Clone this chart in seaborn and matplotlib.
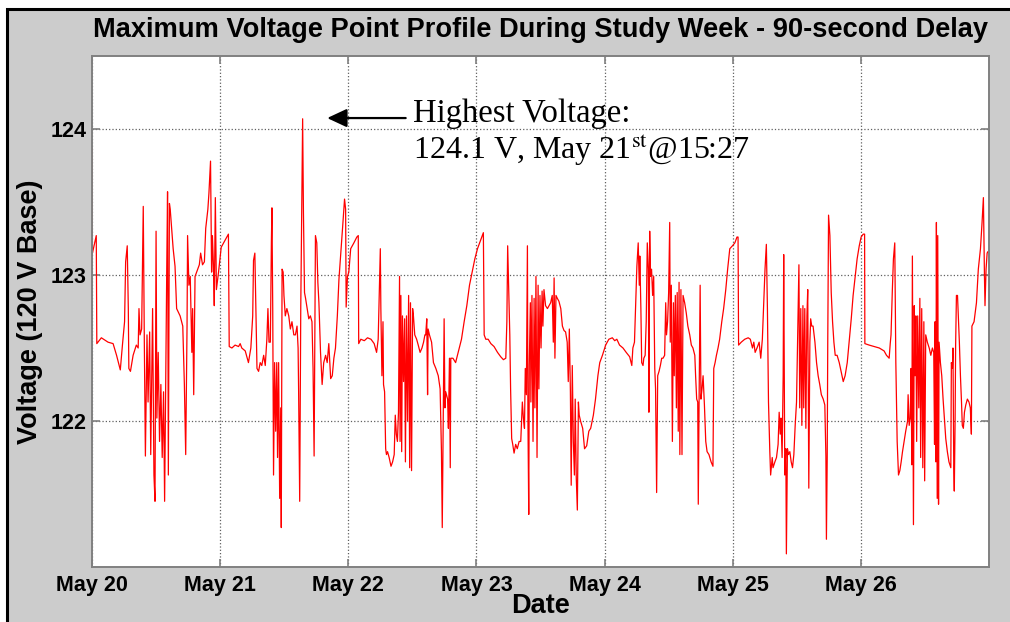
import numpy as np
import pandas as pd
import seaborn as sns
import matplotlib.pyplot as plt
import matplotlib.dates as mdates
from matplotlib.patches import Rectangle

# hours since May 20 00:00
may20_hours = [0.0, 0.02, 0.8, 0.9, 1.75, 3.0, 3.95, 4.6, 5.3, 5.7,
               6.1, 6.3, 6.6, 6.8, 6.9, 7.2, 7.7, 8.3, 8.65, 8.8,
               9.0, 9.3, 9.6, 9.8, 10.0, 10.3, 10.5, 10.8, 11.0, 11.35,
               11.6, 11.8, 12.0, 12.15, 12.4, 12.65, 12.9, 13.15, 13.4, 13.6,
               13.8, 14.0, 14.15, 14.3, 14.5, 14.65, 14.9, 15.2, 15.55, 15.85,
               16.5, 17.0, 17.3, 17.55, 17.8, 17.9, 18.15, 18.4, 18.7, 18.85,
               19.05, 19.3, 19.6, 20.1, 20.35, 20.7, 21.05, 21.3, 21.7, 21.9,
               22.2, 22.4, 22.55, 22.75, 22.9, 23.1, 23.3, 23.7, 24.2, 24.95,
               25.55]
may20_volts = [123.87, 123.14, 123.27, 122.53, 122.57, 122.54, 122.53, 122.45, 122.35, 122.52,
               122.68, 123.09, 123.20, 122.77, 122.36, 122.34, 122.45, 122.52, 122.50, 122.77,
               122.59, 122.63, 123.47, 122.54, 121.76, 122.59, 122.13, 122.61, 121.77, 122.77,
               121.63, 121.45, 123.30, 122.02, 122.47, 121.86, 122.25, 121.75, 122.20, 121.45,
               122.27, 123.04, 123.57, 121.63, 123.49, 123.45, 123.33, 123.18, 123.06, 122.77,
               122.72, 122.65, 122.25, 121.77, 122.65, 123.27, 122.93, 122.99, 122.47, 122.77,
               122.18, 122.99, 123.02, 123.07, 123.15, 123.07, 123.09, 123.32, 123.45, 123.56,
               123.78, 123.02, 123.27, 123.06, 122.79, 123.53, 122.90, 123.02, 123.19, 123.24,
               123.28]

may21_hours = [25.7, 26.2, 26.8, 27.45, 27.75, 28.05, 28.7, 29.3, 29.75, 30.1,
               30.25, 30.5, 30.7, 30.9, 31.2, 31.5, 31.8, 32.15, 32.45, 32.75,
               32.95, 33.15, 33.4, 33.6, 33.7, 33.85, 34.0, 34.2, 34.4, 34.6,
               34.75, 34.95, 35.15, 35.35, 35.45, 35.6, 35.8, 35.95, 36.2, 36.5,
               36.85, 37.15, 37.45, 37.8, 38.1, 38.4, 38.6, 38.7, 38.9, 39.1,
               39.45, 39.6, 39.8, 40.0, 40.3, 40.6, 40.9, 41.2, 41.4, 41.6,
               41.85, 42.1, 42.3, 42.5, 42.8, 43.1, 43.4, 43.75, 44.05, 44.35,
               44.7, 45.0, 45.3, 45.6, 45.95, 46.25, 46.7, 47.0, 47.3, 47.5,
               47.6, 47.85, 48.1, 48.45, 49.05, 49.6, 49.87]
may21_volts = [122.51, 122.50, 122.52, 122.51, 122.53, 122.50, 122.48, 122.40, 122.50, 122.72,
               123.10, 123.15, 122.77, 122.36, 122.34, 122.40, 122.38, 122.45, 122.38, 122.56,
               122.77, 122.54, 122.54, 123.23, 123.46, 122.77, 121.63, 122.40, 121.93, 122.40,
               121.75, 122.40, 121.47, 122.09, 121.27, 123.04, 123.02, 122.86, 122.72, 122.77,
               122.72, 122.63, 122.68, 122.59, 122.59, 122.65, 122.50, 122.20, 121.45, 122.78,
               124.07, 123.43, 122.88, 122.84, 122.77, 122.70, 122.72, 122.68, 122.36, 121.76,
               123.27, 123.22, 122.95, 122.81, 122.47, 122.25, 122.40, 122.45, 122.40, 122.53,
               122.29, 122.31, 122.43, 122.50, 122.72, 122.97, 123.20, 123.36, 123.52, 123.45,
               122.78, 122.99, 123.02, 123.18, 123.22, 123.26, 123.27]

may22_hours = [49.95, 50.35, 51.0, 51.6, 52.25, 52.85, 53.3, 53.6, 53.8, 54.0,
               54.1, 54.3, 54.5, 54.6, 54.8, 55.0, 55.15, 55.35, 55.65, 56.0,
               56.3, 56.6, 56.8, 57.0, 57.2, 57.4, 57.6, 57.7, 57.85, 58.0,
               58.15, 58.35, 58.55, 58.7, 58.9, 59.1, 59.3, 59.5, 59.65, 59.85,
               60.05, 60.2, 60.45, 60.8, 61.1, 61.45, 61.8, 62.1, 62.35, 62.5,
               62.7, 62.85, 62.95, 63.2, 63.6, 63.95, 64.4, 64.85, 65.2, 65.45,
               65.6, 65.75, 65.95, 66.1, 66.25, 66.6, 66.75, 66.95, 67.1, 67.2,
               67.6, 68.1, 68.45, 68.8, 69.2, 69.7, 70.2, 70.7, 71.2, 71.7,
               72.2, 72.8, 73.3]
may22_volts = [122.53, 122.56, 122.55, 122.57, 122.56, 122.53, 122.47, 122.56, 122.88, 123.18,
               122.77, 122.31, 122.68, 122.25, 122.20, 121.81, 121.77, 121.79, 121.75, 121.69,
               121.72, 121.77, 122.04, 121.91, 121.86, 122.06, 122.99, 121.86, 122.86, 121.79,
               122.72, 122.27, 122.70, 121.72, 122.72, 122.00, 122.86, 121.68, 122.81, 121.66,
               122.77, 122.72, 122.59, 122.56, 122.52, 122.47, 122.50, 122.54, 122.59, 122.59,
               122.70, 122.18, 122.63, 122.59, 122.54, 122.40, 122.36, 122.31, 122.22, 121.79,
               121.27, 121.88, 122.70, 122.09, 122.20, 122.15, 121.95, 122.43, 121.68, 122.43,
               122.43, 122.40, 122.45, 122.50, 122.56, 122.68, 122.79, 122.93, 123.02, 123.11,
               123.18, 123.24, 123.29]

may23_hours = [73.45, 73.75, 74.2, 74.7, 75.3, 75.95, 76.55, 77.05, 77.5, 77.7,
               77.85, 78.05, 78.25, 78.4, 78.6, 78.8, 79.05, 79.35, 79.65, 80.0,
               80.3, 80.6, 80.8, 81.0, 81.15, 81.35, 81.55, 81.65, 81.8, 81.9,
               82.1, 82.2, 82.4, 82.6, 82.8, 82.95, 83.15, 83.35, 83.55, 83.7,
               83.9, 84.1, 84.3, 84.45, 84.65, 84.95, 85.3, 85.6, 85.9, 86.2,
               86.4, 86.55, 86.7, 86.9, 87.15, 87.45, 87.8, 88.1, 88.4, 88.7,
               89.0, 89.2, 89.4, 89.6, 89.75, 89.95, 90.15, 90.35, 90.5, 90.7,
               90.9, 91.1, 91.25, 91.5, 91.9, 92.25, 92.65, 93.05, 93.4, 93.9,
               94.3, 94.75, 95.1, 95.6, 96.2, 96.8]
may23_volts = [122.59, 122.56, 122.56, 122.53, 122.51, 122.47, 122.44, 122.42, 122.43, 122.68,
               123.20, 122.88, 122.59, 122.22, 121.88, 121.84, 121.78, 121.84, 121.81, 121.86,
               121.86, 122.13, 122.02, 121.95, 122.36, 122.18, 123.20, 122.00, 121.36, 122.38,
               122.81, 122.13, 122.86, 121.86, 122.84, 122.09, 122.99, 121.75, 122.93, 122.22,
               122.86, 122.50, 122.89, 122.65, 122.90, 122.79, 122.77, 122.79, 122.81, 122.86,
               122.54, 122.98, 122.43, 122.86, 122.84, 122.82, 122.77, 122.65, 122.62, 122.61,
               122.54, 122.27, 122.63, 122.20, 121.56, 122.38, 121.86, 121.63, 122.15, 121.61,
               121.39, 122.13, 122.04, 122.00, 121.95, 121.81, 121.83, 121.93, 121.95, 122.04,
               122.15, 122.31, 122.40, 122.45, 122.52, 122.56]

may24_hours = [97.45, 97.9, 98.3, 98.8, 99.45, 100.05, 100.7, 101.1, 101.3, 101.6,
               101.8, 102.05, 102.3, 102.5, 102.6, 102.8, 102.95, 103.2, 103.35, 103.6,
               103.8, 104.0, 104.2, 104.3, 104.45, 104.6, 104.8, 105.0, 105.2, 105.4,
               105.55, 105.75, 105.95, 106.2, 106.45, 106.7, 106.95, 107.25, 107.45, 107.6,
               107.8, 108.0, 108.2, 108.3, 108.5, 108.7, 108.9, 109.05, 109.25, 109.45,
               109.6, 109.8, 109.95, 110.1, 110.3, 110.5, 110.7, 111.0, 111.3, 111.6,
               111.95, 112.25, 112.55, 112.9, 113.05, 113.25, 113.45, 113.55, 113.7, 113.9,
               114.05, 114.25, 114.45, 114.7, 114.95, 115.2, 115.55, 115.95, 116.3, 116.45,
               116.7, 116.95, 117.25, 117.55, 117.95, 118.3, 118.7, 119.05, 119.45, 119.95,
               120.4, 120.8, 121.0]
may24_volts = [122.57, 122.55, 122.56, 122.52, 122.50, 122.47, 122.44, 122.38, 122.50, 122.54,
               122.77, 123.06, 123.22, 122.93, 123.13, 122.77, 122.40, 122.38, 122.43, 122.45,
               122.68, 123.22, 123.04, 122.06, 123.30, 122.99, 123.04, 122.86, 122.99, 122.36,
               122.22, 121.51, 122.31, 122.34, 122.38, 122.43, 122.43, 122.45, 122.81, 122.59,
               122.68, 122.88, 123.36, 122.54, 122.93, 121.86, 122.81, 122.31, 122.86, 122.09,
               122.88, 121.93, 122.95, 121.77, 122.90, 121.77, 122.86, 122.81, 122.74, 122.65,
               122.59, 122.52, 122.50, 122.45, 122.31, 122.15, 122.13, 121.43, 122.13, 122.93,
               122.15, 122.22, 122.31, 122.11, 121.86, 121.79, 121.77, 121.72, 121.69, 122.36,
               122.40, 122.45, 122.50, 122.56, 122.68, 122.77, 122.90, 123.04, 123.18, 123.20,
               123.22, 123.26, 123.26]

may25_hours = [121.1, 121.6, 122.25, 122.9, 123.3, 123.7, 123.95, 124.2, 124.55, 124.95,
               125.25, 125.55, 125.8, 126.05, 126.3, 126.5, 126.7, 126.95, 127.1, 127.4,
               127.55, 127.9, 128.2, 128.5, 128.7, 128.9, 129.05, 129.25, 129.45, 129.55,
               129.75, 129.95, 130.05, 130.25, 130.45, 130.7, 130.95, 131.2, 131.45, 131.7,
               131.95, 132.2, 132.4, 132.55, 132.75, 132.95, 133.15, 133.3, 133.5, 133.7,
               133.9, 134.05, 134.25, 134.45, 134.6, 134.8, 135.05, 135.4, 135.7, 136.0,
               136.3, 136.6, 136.95, 137.25, 137.45, 137.55, 137.7, 137.8, 137.95, 138.2,
               138.45, 138.7, 138.95, 139.2, 139.55, 139.95, 140.3, 140.7, 141.05, 141.45,
               141.8, 142.2, 142.55, 142.95, 143.3, 143.7, 144.05, 144.45, 144.7]
may25_volts = [122.52, 122.54, 122.56, 122.57, 122.56, 122.50, 122.54, 122.47, 122.50, 122.54,
               122.43, 122.56, 122.81, 123.04, 123.21, 122.77, 122.13, 121.79, 121.63, 121.75,
               121.68, 121.72, 121.75, 121.84, 122.06, 121.91, 122.02, 121.75, 122.31, 123.14,
               121.63, 121.81, 121.09, 121.81, 121.77, 121.79, 121.72, 121.68, 121.77, 121.97,
               122.13, 122.65, 123.07, 122.09, 122.77, 121.97, 122.79, 122.09, 122.77, 121.95,
               122.72, 122.90, 121.54, 122.54, 122.70, 122.65, 122.65, 122.54, 122.40, 122.31,
               122.25, 122.18, 122.15, 122.11, 121.76, 121.19, 121.75, 122.54, 123.41, 123.27,
               122.88, 122.68, 122.54, 122.45, 122.45, 122.40, 122.34, 122.27, 122.31, 122.40,
               122.54, 122.70, 122.86, 122.99, 123.11, 123.20, 123.26, 123.28, 123.28]

may26_hours = [144.75, 145.55, 146.5, 147.45, 148.35, 148.8, 149.3, 149.5, 149.65, 149.9,
               150.1, 150.35, 150.55, 150.8, 151.05, 151.3, 151.55, 151.8, 152.1, 152.4,
               152.75, 152.85, 153.05, 153.25, 153.4, 153.55, 153.65, 153.85, 154.0, 154.15,
               154.3, 154.45, 154.65, 154.85, 155.05, 155.2, 155.4, 155.6, 155.8, 155.95,
               156.15, 156.45, 156.8, 157.1, 157.4, 157.65, 157.8, 157.9, 158.05, 158.15,
               158.3, 158.4, 158.55, 158.65, 158.9, 159.15, 159.4, 159.65, 159.9, 160.2,
               160.5, 160.85, 160.95, 161.15, 161.25, 161.4, 161.5, 161.65, 161.75, 161.9,
               162.1, 162.25, 162.45, 162.65, 162.85, 163.0, 163.2, 163.4, 163.65, 163.95,
               164.25, 164.5, 164.7, 164.8, 165.2, 165.65, 166.0, 166.4, 166.7, 166.95,
               167.15, 167.25, 167.45, 167.65, 167.8]
may26_volts = [122.53, 122.52, 122.51, 122.50, 122.48, 122.45, 122.43, 122.53, 122.59, 122.90,
               123.11, 123.22, 122.40, 121.86, 121.63, 121.66, 121.72, 121.79, 121.86, 121.93,
               122.00, 122.18, 121.97, 122.02, 122.36, 121.70, 123.13, 121.29, 122.79, 122.31,
               122.72, 121.86, 122.72, 122.09, 122.84, 121.75, 122.77, 121.68, 122.68, 121.59,
               122.59, 122.54, 122.50, 122.45, 122.50, 122.47, 121.84, 122.68, 121.72, 123.36,
               121.47, 123.27, 121.43, 122.54, 122.40, 122.31, 122.15, 122.02, 121.88, 121.79,
               121.72, 121.68, 122.40, 122.36, 122.50, 121.68, 121.52, 122.00, 122.52, 122.86,
               122.86, 122.72, 122.54, 122.31, 122.13, 121.97, 121.95, 122.06, 122.11, 122.15,
               122.13, 122.09, 121.91, 122.65, 122.68, 122.81, 123.04, 123.18, 123.36, 123.53,
               122.99, 122.79, 123.04, 123.15, 123.16]

day_labels = ["May 20", "May 21", "May 22", "May 23", "May 24", "May 25", "May 26"]

start = pd.Timestamp("2012-05-20")
hours = np.concatenate([may20_hours, may21_hours, may22_hours, may23_hours,
                        may24_hours, may25_hours, may26_hours])
volts = np.concatenate([may20_volts, may21_volts, may22_volts, may23_volts,
                        may24_volts, may25_volts, may26_volts])
df = pd.DataFrame({"time": start + pd.to_timedelta(hours, unit="h"), "volts": volts})

sns.set_theme(style="ticks")
plt.rcParams["font.family"] = ["Liberation Sans", "DejaVu Sans"]
plt.rcParams["mathtext.fontset"] = "stix"
plt.rcParams["text.color"] = "black"
plt.rcParams["axes.labelcolor"] = "black"

W, H = 1010, 622
fig = plt.figure(figsize=(W / 100, H / 100), dpi=100, facecolor="white")
# grey MATLAB-style figure panel with black frame, kept behind the axes
panel = Rectangle((7 / W, -0.05), 1.1, 1 - 9 / H + 0.05,
                  transform=fig.transFigure, facecolor="#cccccc",
                  edgecolor="black", linewidth=2.2, zorder=-10)
fig.patches.append(panel)

ax = fig.add_axes([92 / W, 1 - 567 / H, (989 - 92) / W, (567 - 56) / H])
ax.set_facecolor("white")
sns.lineplot(data=df, x="time", y="volts", ax=ax, color="red", linewidth=0.9,
             estimator=None, sort=False)

ax.set_xlim(start, start + pd.Timedelta(days=7))
ax.set_ylim(121, 124.5)
ax.set_yticks([122, 123, 124])
ax.set_xticks([start + pd.Timedelta(days=i) for i in range(len(day_labels))])
ax.set_xticklabels(day_labels)

ax.grid(True, linestyle=":", color="#606060", linewidth=0.9)
for s in ax.spines.values():
    s.set_color("#808080")
    s.set_linewidth(1.4)
ax.tick_params(which="both", direction="in", top=True, right=True, length=6,
               width=1.2, color="#808080", labelsize=15.5, labelcolor="black")
ax.tick_params(axis="x", pad=6)
ax.tick_params(axis="y", pad=4)
for lab in ax.get_xticklabels() + ax.get_yticklabels():
    lab.set_fontweight("bold")

ax.set_title("Maximum Voltage Point Profile During Study Week - 90-second Delay",
             fontsize=19.6, fontweight="bold", pad=13.5, color="black")
ax.set_xlabel("Date", fontsize=19.5, fontweight="bold")
ax.set_ylabel("Voltage (120 V Base)", fontsize=19.5, fontweight="bold")
ax.xaxis.set_label_coords(0.5, -0.05)
ax.yaxis.set_label_coords(-0.055, 0.5)

# annotation of the peak
peak = df["volts"].idxmax()
peak_t = df.loc[peak, "time"]
peak_v = df.loc[peak, "volts"]
tip = mdates.date2num(peak_t + pd.Timedelta(hours=4.6))
tail = mdates.date2num(peak_t + pd.Timedelta(hours=19.3))
ax.annotate("", xy=(tip, peak_v + 0.005), xytext=(tail, peak_v + 0.005),
            arrowprops=dict(arrowstyle="-|>,head_length=0.6,head_width=0.28",
                            color="black", lw=1.6, mutation_scale=20,
                            shrinkA=0, shrinkB=0))
txt_x = mdates.date2num(peak_t + pd.Timedelta(hours=20.6))
serif = ["Liberation Serif", "DejaVu Serif"]
ax.text(txt_x, 124.048, "Highest Voltage:", family=serif, fontsize=23.5,
        va="baseline", ha="left")
ax.text(txt_x, 123.796, "124.1 V, May 21$^{\\mathrm{st}}$@15:27", family=serif,
        fontsize=23, va="baseline", ha="left")

fig.savefig("out.png", dpi=100, facecolor=fig.get_facecolor())
